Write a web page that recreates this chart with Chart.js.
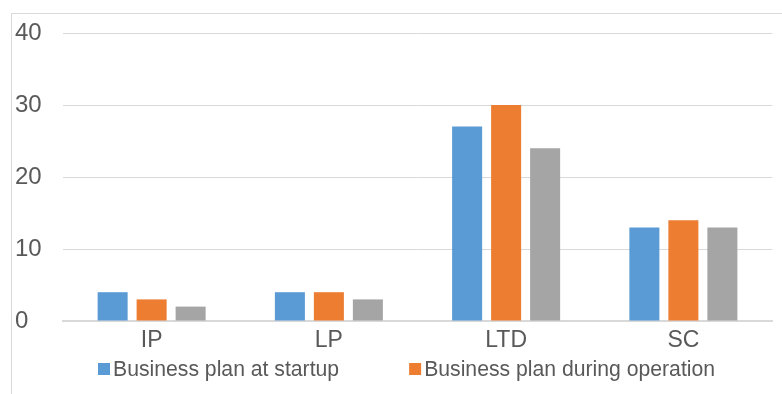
<!DOCTYPE html>
<html>
<head>
<meta charset="utf-8">
<script src="https://cdn.jsdelivr.net/npm/chart.js@4.4.0/dist/chart.umd.min.js"></script>
<style>
  html, body { margin: 0; padding: 0; background: #fff; overflow: hidden; }
  #frame {
    position: absolute; left: 11px; top: 13px;
    width: 771px; height: 381px;
    border-left: 1px solid #d9d9d9; border-top: 1px solid #d9d9d9;
  }
</style>
</head>
<body>
<div id="frame"><canvas id="chart" width="770" height="380"></canvas></div>
<script>
// categories and series
const categories = ['IP', 'LP', 'LTD', 'SC'];
const startupPlan = [4, 4, 27, 13];
const operationPlan = [3, 4, 30, 14];
const thirdSeries = [2, 3, 24, 13];
const yTicks = [0, 10, 20, 30, 40];

const textColor = '#595959';
const gridColor = '#d9d9d9';
const fontFamily = 'Liberation Sans';

// legend drawn by hand so the spacing matches the original (only two entries shown)
const bottomLegend = {
  id: 'bottomLegend',
  afterDraw(chart) {
    const c = chart.ctx;
    const y = 355;
    let x = 86;
    c.save();
    c.font = '21.2px ' + fontFamily;
    c.textBaseline = 'middle';
    c.textAlign = 'left';
    chart.data.datasets.forEach(ds => {
      if (!ds.label) return;
      c.fillStyle = ds.backgroundColor;
      c.fillRect(x, y - 6, 12, 12);
      c.fillStyle = textColor;
      c.fillText(ds.label, x + 15, y + 1);
      x += 15 + c.measureText(ds.label).width + 70;
    });
    c.restore();
  },
};

const ctx = document.getElementById('chart').getContext('2d');
new Chart(ctx, {
  type: 'bar',
  data: {
    labels: categories,
    datasets: [
      { label: 'Business plan at startup', data: startupPlan, backgroundColor: '#5b9bd5' },
      { label: 'Business plan during operation', data: operationPlan, backgroundColor: '#ed7d31' },
      { label: '', data: thirdSeries, backgroundColor: '#a5a5a5' },
    ],
  },
  plugins: [bottomLegend],
  options: {
    responsive: false,
    animation: false,
    datasets: { bar: { categoryPercentage: 0.66, barPercentage: 0.77 } },
    layout: { padding: { top: 19, right: 10, left: 3, bottom: 0 } },
    plugins: {
      tooltip: { enabled: false },
      legend: { display: false },
    },
    scales: {
      x: {
        afterFit: axis => { axis.height = 73; },
        grid: { display: false, drawTicks: false },
        border: { color: gridColor, width: 2 },
        ticks: { color: textColor, font: { family: fontFamily, size: 23 }, padding: 6 },
      },
      y: {
        min: 0,
        max: 40,
        afterBuildTicks: axis => { axis.ticks = yTicks.map(v => ({ value: v })); },
        afterFit: axis => {
          axis.width = 48;
          axis.paddingTop = 0;
          axis.paddingBottom = 0;
        },
        grid: { color: gridColor, drawTicks: false },
        border: { display: false },
        ticks: {
          color: textColor,
          font: { family: fontFamily, size: 24 },
          crossAlign: 'far',
          padding: 8,
        },
      },
    },
  },
});
</script>
</body>
</html>
